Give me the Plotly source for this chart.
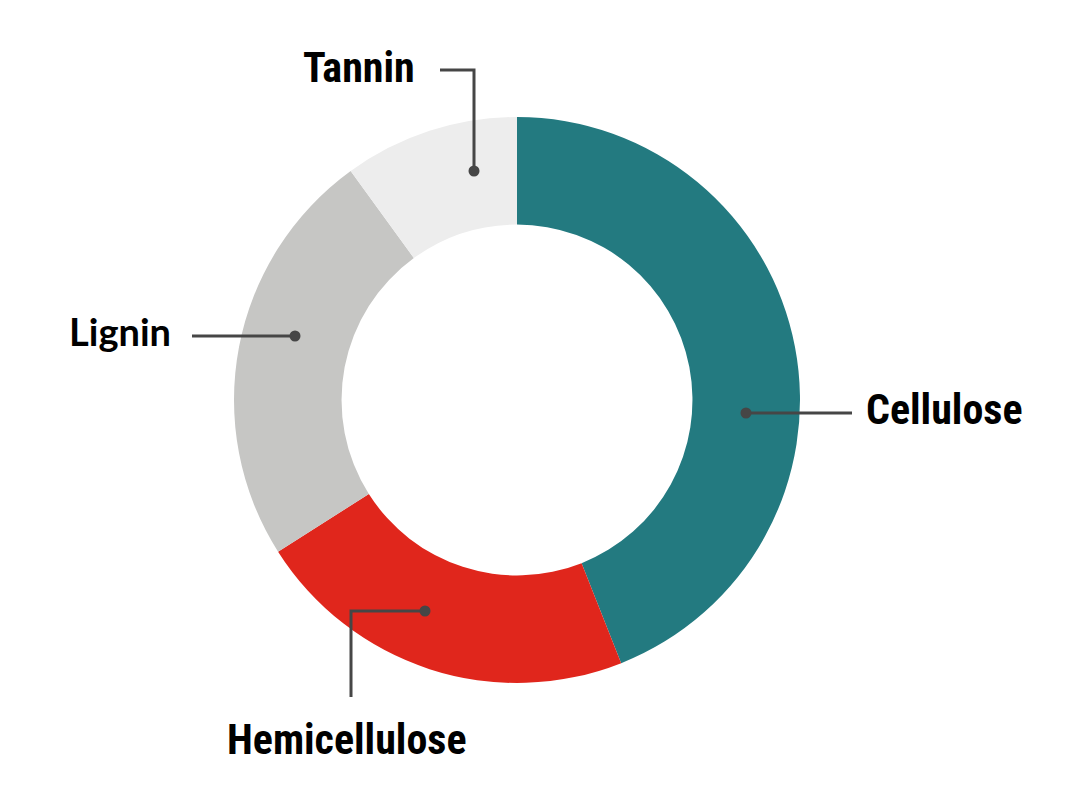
import plotly.graph_objects as go

# ---- data ----
components = ["Cellulose", "Hemicellulose", "Lignin", "Tannin"]
shares = [44, 22, 24, 10]
colors = ["#237A80", "#E0261C", "#C6C6C4", "#EDEDED"]

# ---- layout helpers (pixel geometry of the 1080x800 canvas) ----
W, H = 1080, 800
OFF = 8  # page body margin
CX, CY, R = 517, 400, 283


def px(x):
    return (x - OFF) / W


def py(y):
    return 1 - (y - OFF) / H


fig = go.Figure(
    go.Pie(
        labels=components,
        values=shares,
        marker=dict(colors=colors, line=dict(width=0)),
        hole=0.62,
        sort=False,
        direction="clockwise",
        rotation=0,
        textinfo="none",
        hoverinfo="label+percent",
        showlegend=False,
        domain=dict(x=[px(CX - R), px(CX + R)], y=[py(CY + R), py(CY - R)]),
    )
)

line_col = "#464646"
# connector paths (pixel coords) : list of points, first point = dot
connectors = {
    "Tannin": [(474, 171), (474, 70), (440, 70)],
    "Lignin": [(295, 336), (192, 336)],
    "Cellulose": [(746, 413), (852, 413)],
    "Hemicellulose": [(425, 611), (351, 611), (351, 697)],
}
shapes = []
for name, pts in connectors.items():
    path = "M " + " L ".join(f"{px(x)},{py(y)}" for x, y in pts)
    shapes.append(dict(type="path", path=path, xref="paper", yref="paper",
                       line=dict(color=line_col, width=3)))
    dx, dy = pts[0]
    r = 5.5
    shapes.append(dict(type="circle", xref="paper", yref="paper",
                       x0=px(dx - r), x1=px(dx + r), y0=py(dy + r), y1=py(dy - r),
                       fillcolor=line_col, line=dict(width=0)))

cond = "Liberation Sans Narrow, Roboto Condensed, DejaVu Sans Condensed, sans-serif"
label_font = dict(family=cond, size=42, color="#000000", weight="bold")
annotations = [
    dict(text="Tannin", x=px(417), y=py(68), xanchor="right", yanchor="middle",
         font=label_font),
    dict(text="Lignin", x=px(173), y=py(331), xanchor="right", yanchor="middle",
         font=dict(family="Lato, sans-serif", size=38, color="#000000", weight="bold")),
    dict(text="Cellulose", x=px(864), y=py(409), xanchor="left", yanchor="middle",
         font=label_font),
    dict(text="Hemicellulose", x=px(347), y=py(739), xanchor="center", yanchor="middle",
         font=label_font),
]
for a in annotations:
    a.update(xref="paper", yref="paper", showarrow=False)

fig.update_layout(
    width=W, height=H,
    margin=dict(l=0, r=0, t=0, b=0),
    paper_bgcolor="white",
    plot_bgcolor="white",
    shapes=shapes,
    annotations=annotations,
)

fig.write_html("out.html")
